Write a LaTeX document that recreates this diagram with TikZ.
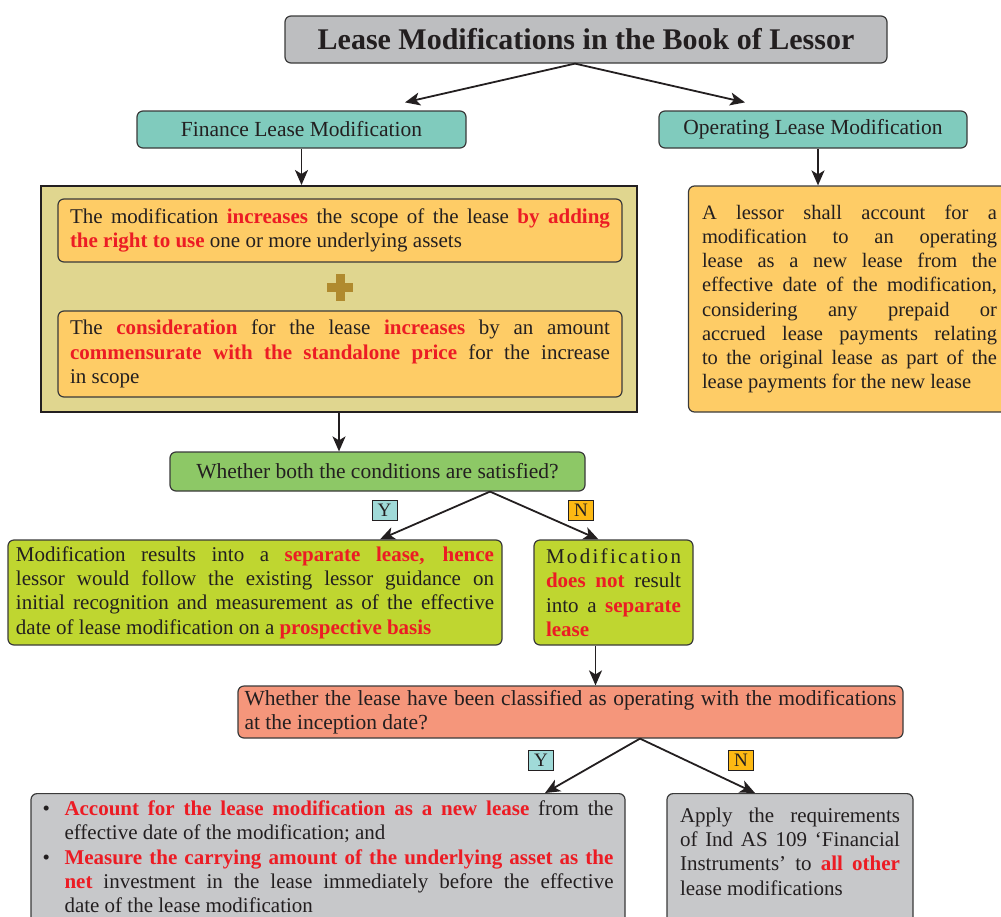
\documentclass[tikz,border=0pt]{standalone}
\usepackage{fontspec}
\setmainfont{Liberation Serif}
\usetikzlibrary{arrows.meta}
\definecolor{tgray}{HTML}{BDBEC0}
\definecolor{tealc}{HTML}{80CBBD}
\definecolor{olivec}{HTML}{E0D68F}
\definecolor{orng}{HTML}{FECC66}
\definecolor{plusc}{HTML}{B08A2E}
\definecolor{grn}{HTML}{8DC866}
\definecolor{limec}{HTML}{BFD630}
\definecolor{salmon}{HTML}{F5967B}
\definecolor{bgray}{HTML}{C7C8CA}
\definecolor{redc}{HTML}{EC1C24}
\definecolor{ylab}{HTML}{A0DAD8}
\definecolor{nlab}{HTML}{FDB913}
\definecolor{boxline}{HTML}{3A3A3A}
\definecolor{txt}{HTML}{231F20}
\newcommand{\hl}[1]{\textcolor{redc}{\textbf{#1}}}
\begin{document}
\begin{tikzpicture}[x=1pt,y=-1pt,
  box/.style={draw=boxline, line width=1.2pt, rounded corners=6pt, inner sep=0pt, align=center, text=txt},
  conn/.style={line width=1.8pt, draw=txt, -{Stealth[length=15pt,width=13pt,inset=4pt]}},
  body/.style={font=\fontsize{21.5}{24.4}\selectfont},
  bodyb/.style={font=\fontsize{21}{24.4}\selectfont},
  lbl/.style={draw=txt, line width=0.6pt, minimum width=25pt, minimum height=20pt, inner sep=0pt, text=txt, font=\fontsize{19}{22}\selectfont},
]
\useasboundingbox (0,0) rectangle (1001,916);

\node[box, fill=tgray, minimum width=602pt, minimum height=47pt, font=\fontsize{30}{32}\selectfont\bfseries] (title) at (586,39.5) {Lease Modifications in the Book of Lessor};

\node[box, fill=tealc, minimum width=329pt, minimum height=37pt, body] (fin) at (301.5,129.5) {Finance Lease Modification};
\node[box, fill=tealc, minimum width=308pt, minimum height=37pt, body] (op) at (813,129.5) {Operating Lease Modification};

\node[draw=txt, line width=2pt, fill=olivec, minimum width=596pt, minimum height=226pt, inner sep=0pt] (big) at (339,299) {};
\node[box, fill=orng, minimum width=564pt, minimum height=63pt, text width=540pt, align=justify, bodyb] (c1) at (340,230.5) {The modification \hl{increases} the scope of the lease \hl{by adding}\linebreak \hl{the right to use} one or more underlying assets};
\fill[plusc] (327,283) rectangle (353,292);
\fill[plusc] (335.5,274) rectangle (344.5,301);
\node[box, fill=orng, minimum width=564pt, minimum height=86pt, text width=540pt, align=justify, bodyb] (c2) at (340,354) {The \hl{consideration} for the lease \hl{increases} by an amount\linebreak \hl{commensurate with the standalone price} for the increase\linebreak in scope};

\node[box, fill=orng, minimum width=322pt, minimum height=226pt, text width=295pt, align=justify, font=\fontsize{20.5}{24.2}\selectfont] (opt) at (849.5,299) {A lessor shall account for a\linebreak modification to an operating\linebreak lease as a new lease from the\linebreak effective date of the modification,\linebreak considering any prepaid or\linebreak accrued lease payments relating\linebreak to the original lease as part of the\linebreak lease payments for the new lease};

\node[box, fill=grn, minimum width=415pt, minimum height=39pt, body] (cond) at (377.5,471.5) {Whether both the conditions are satisfied?};

\node[box, fill=limec, minimum width=494pt, minimum height=105pt, text width=478pt, align=justify, bodyb] (sep) at (255,592.5) {Modification results into a \hl{separate lease, hence}\linebreak lessor would follow the existing lessor guidance on\linebreak initial recognition and measurement as of the effective\linebreak date of lease modification on a \hl{prospective basis}};
\node[box, fill=limec, minimum width=159pt, minimum height=105pt, text width=135pt, align=justify, bodyb] (nsep) at (613.5,592.5) {\hbox to\hsize{M\hfil o\hfil d\hfil i\hfil f\hfil i\hfil c\hfil a\hfil t\hfil i\hfil o\hfil n}\par\noindent\hl{does not} result\linebreak into a \hl{separate}\linebreak \hl{lease}};

\node[box, fill=salmon, minimum width=665pt, minimum height=52pt, text width=652pt, align=justify, body] (class) at (570.5,712) {Whether the lease have been classified as operating with the modifications\linebreak at the inception date?};

\node[box, fill=bgray, anchor=north, minimum width=594pt, text width=571pt, inner ysep=7pt, align=justify, bodyb] (acc) at (328,793) {\noindent\hangindent=22pt\hangafter=1\hbox to22pt{\textbullet\hfil}\hl{Account for the lease modification as a new lease} from the\linebreak effective date of the modification; and\par
\noindent\hangindent=22pt\hangafter=1\hbox to22pt{\textbullet\hfil}\hl{Measure the carrying amount of the underlying asset as the}\linebreak\hl{net} investment in the lease immediately before the effective\linebreak date of the lease modification\rule[-30pt]{0pt}{0pt}\par};

\node[box, fill=bgray, anchor=north, minimum width=246pt, text width=220pt, inner ysep=14pt, align=justify, bodyb] (ind) at (790,793) {Apply the requirements\linebreak of Ind AS 109 ‘Financial\linebreak Instruments’ to \hl{all other}\linebreak lease modifications\rule[-30pt]{0pt}{0pt}};

\node[lbl, fill=ylab] (y1) at (384.5,510) {Y};
\node[lbl, fill=nlab] (n1) at (581,510) {N};
\node[lbl, fill=ylab] (y2) at (541,760) {Y};
\node[lbl, fill=nlab] (n2) at (741,760) {N};

\draw[conn] ([xshift=-11pt]title.south) -- ([xshift=103.5pt,yshift=8pt]fin.north);
\draw[conn] ([xshift=-11pt]title.south) -- ([xshift=-68pt,yshift=8pt]op.north);
\draw[conn] (fin.south) -- (fin.south |- big.north);
\draw[conn] ([xshift=5pt]op.south) -- ([xshift=5pt]op.south |- opt.north);
\draw[conn] (big.south) -- (big.south |- cond.north);
\draw[conn] ([xshift=112.5pt]cond.south) -- ([xshift=125pt]sep.north);
\draw[conn] ([xshift=112.5pt]cond.south) -- ([xshift=-15pt]nsep.north);
\draw[conn] ([xshift=-18pt]nsep.south) -- ([xshift=-18pt]nsep.south |- class.north);
\draw[conn] ([xshift=69.5pt]class.south) -- ([xshift=217pt]acc.north);
\draw[conn] ([xshift=69.5pt]class.south) -- ([xshift=-35pt]ind.north);
\end{tikzpicture}
\end{document}
